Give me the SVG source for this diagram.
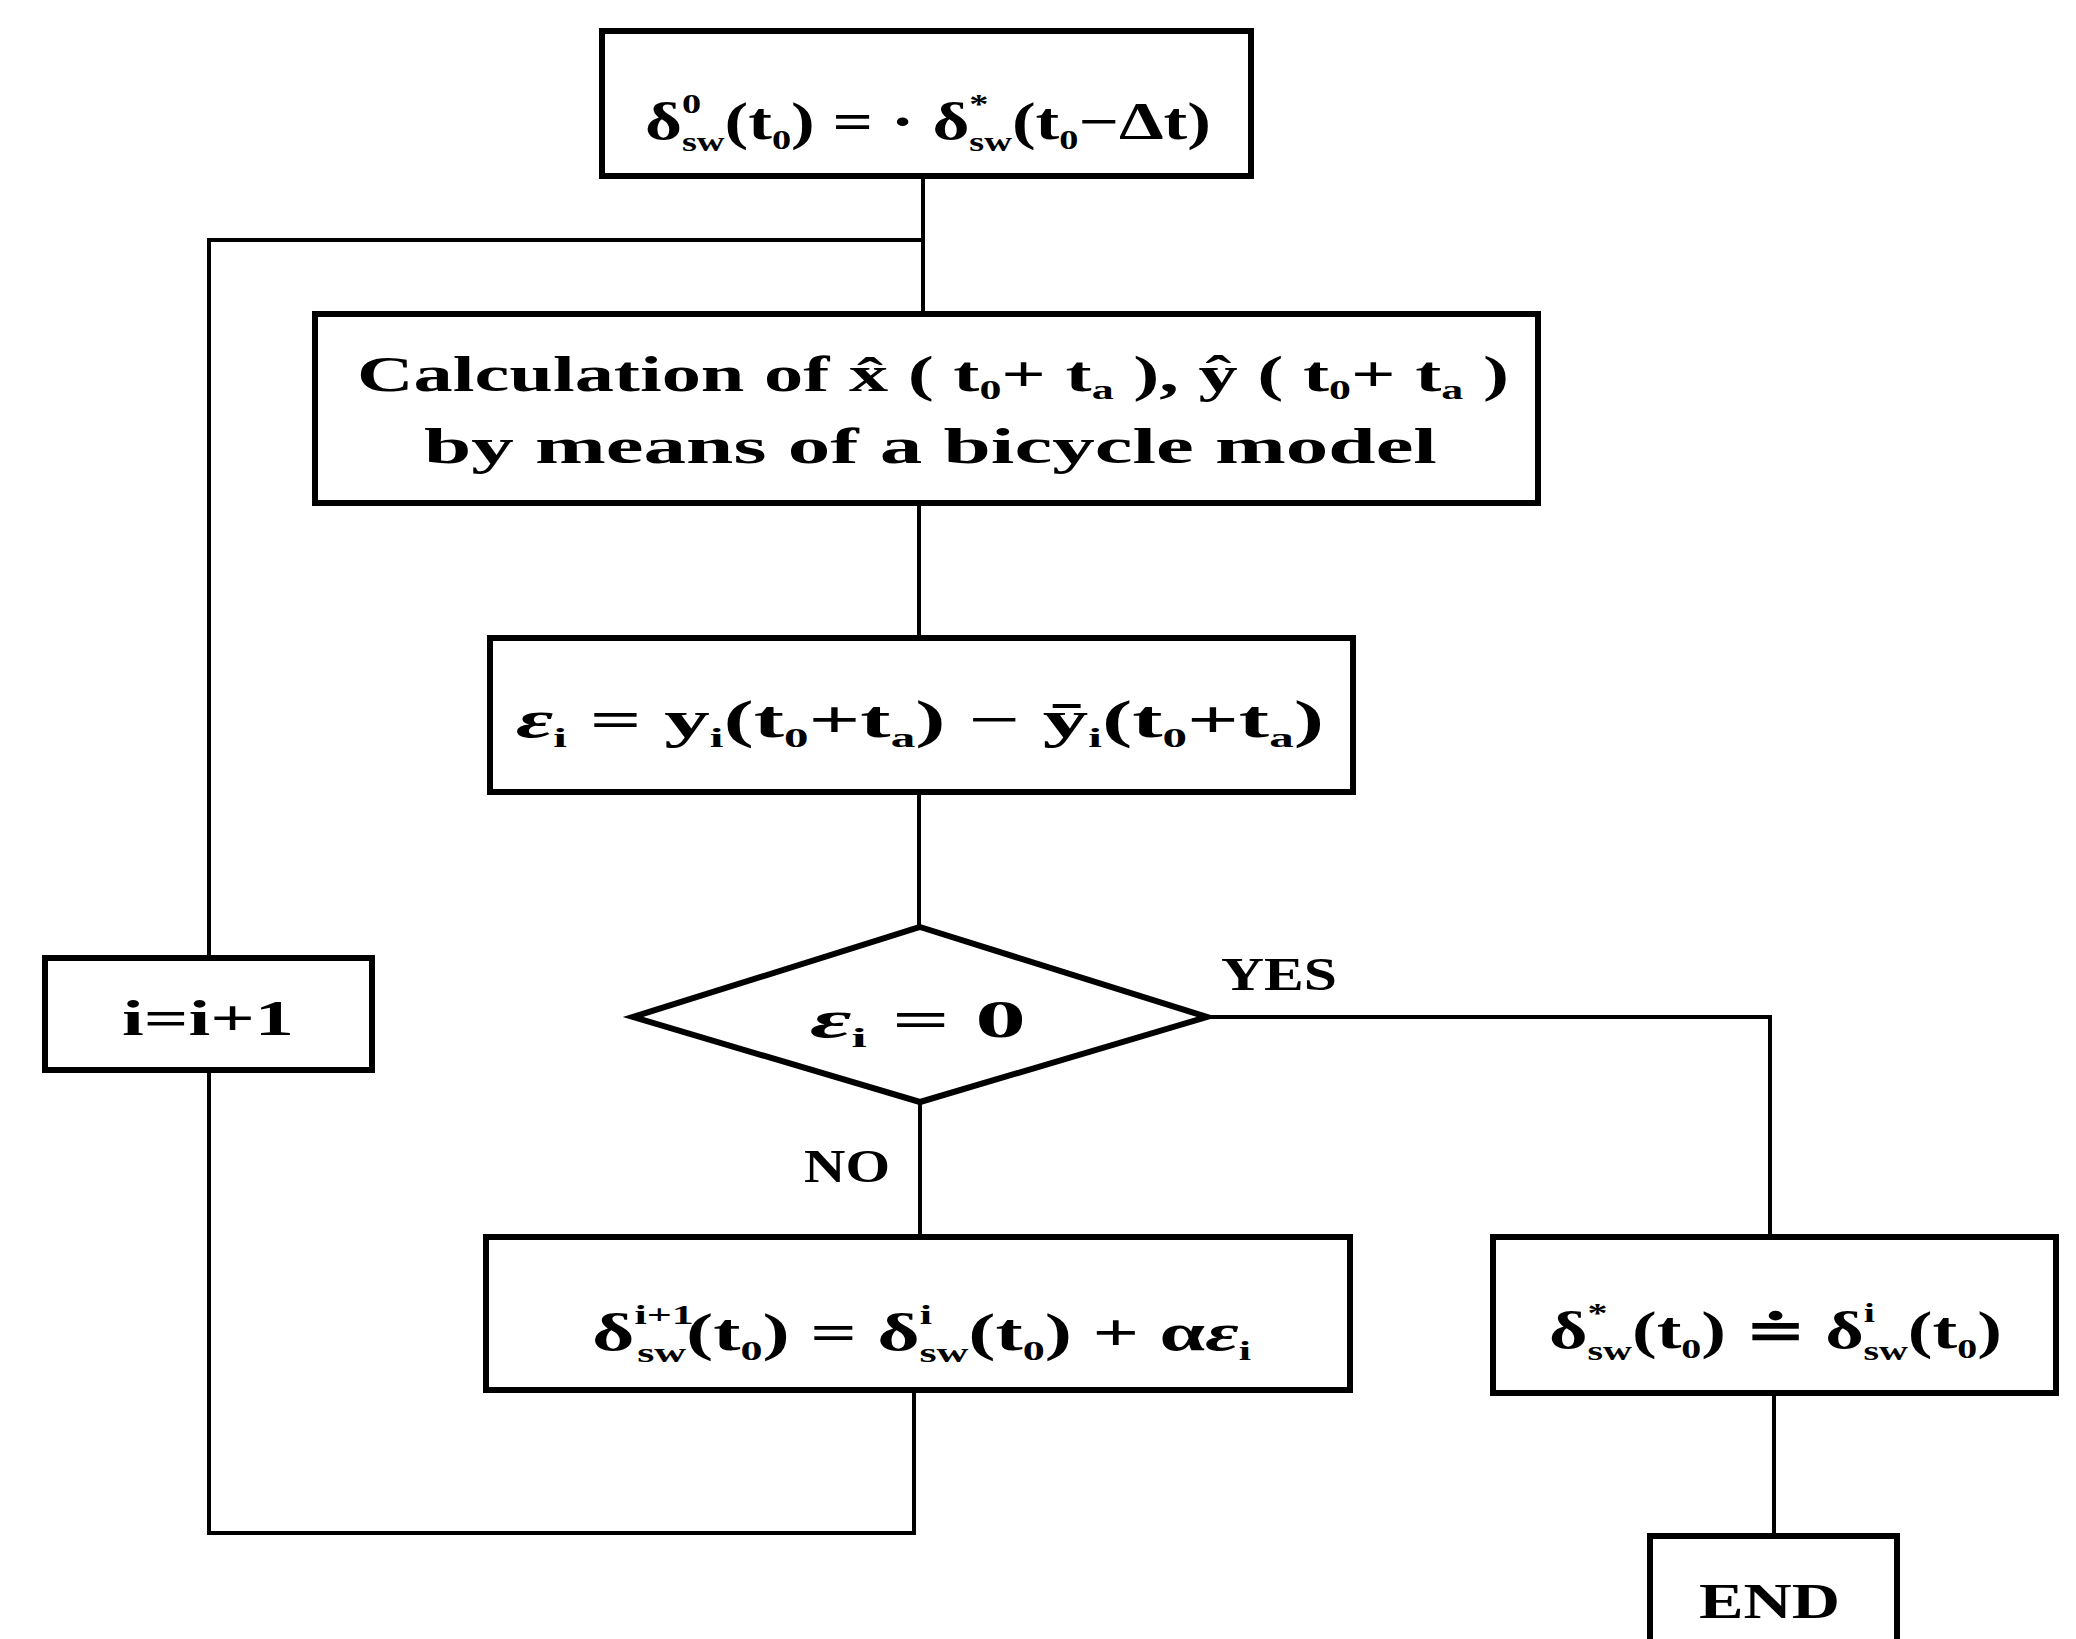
<svg xmlns="http://www.w3.org/2000/svg" width="2076" height="1639" viewBox="0 0 2076 1639">
<style>
.box{fill:#fff;stroke:#000;stroke-width:6}
.con{fill:none;stroke:#000;stroke-width:4}
text{font-family:"Liberation Serif","DejaVu Serif",serif;font-weight:bold;fill:#000;font-size:50px}
.m{font-size:52px}
.s{font-size:28px}
.lab{font-size:46px}
</style>
<rect width="2076" height="1639" fill="#fff"/>
<g id="connectors">
<path class="con" d="M923,176 V314"/>
<path class="con" d="M923,240 H209 V958"/>
<path class="con" d="M209,1070 V1533 H914 V1390"/>
<path class="con" d="M919,503 V638"/>
<path class="con" d="M919,792 V927"/>
<path class="con" d="M920,1102 V1237"/>
<path class="con" d="M1207,1017 H1770 V1237"/>
<path class="con" d="M1774,1393 V1536"/>
</g>
<g id="init">
<rect class="box" x="602" y="31" width="649" height="145"/>
<text class="m" x="645" y="139" textLength="566" lengthAdjust="spacingAndGlyphs">δ<tspan class="s" dy="-26">0</tspan><tspan class="s" dx="-14" dy="38">sw</tspan><tspan dy="-12">(t</tspan><tspan class="s" dy="10">0</tspan><tspan dy="-10">)  = · δ</tspan><tspan class="s" dy="-26">*</tspan><tspan class="s" dx="-14" dy="38">sw</tspan><tspan dy="-12">(t</tspan><tspan class="s" dy="10">0</tspan><tspan dy="-10">−Δt)</tspan></text>
</g>
<g id="calc">
<rect class="box" x="315" y="314" width="1223" height="189"/>
<text x="357" y="391" textLength="1152" lengthAdjust="spacingAndGlyphs">Calculation of x̂ ( t<tspan class="s" dy="8">0</tspan><tspan dy="-8">+ t</tspan><tspan class="s" dy="8">a</tspan><tspan dy="-8"> ), ŷ ( t</tspan><tspan class="s" dy="8">0</tspan><tspan dy="-8">+ t</tspan><tspan class="s" dy="8">a</tspan><tspan dy="-8"> )</tspan></text>
<text x="424" y="463" textLength="1013" lengthAdjust="spacingAndGlyphs">by means of a bicycle model</text>
</g>
<g id="error">
<rect class="box" x="490" y="638" width="863" height="154"/>
<text class="m" x="516" y="737" textLength="808" lengthAdjust="spacingAndGlyphs"><tspan font-style="italic">ε</tspan><tspan class="s" dy="10">i</tspan><tspan dy="-10"> =  y</tspan><tspan class="s" dy="10">i</tspan><tspan dy="-10">(t</tspan><tspan class="s" dy="10">0</tspan><tspan dy="-10">+t</tspan><tspan class="s" dy="10">a</tspan><tspan dy="-10">)  −  ȳ</tspan><tspan class="s" dy="10">i</tspan><tspan dy="-10">(t</tspan><tspan class="s" dy="10">0</tspan><tspan dy="-10">+t</tspan><tspan class="s" dy="10">a</tspan><tspan dy="-10">)</tspan></text>
</g>
<g id="decision">
<polygon class="box" points="920,927 1207,1017 920,1102 633,1017"/>
<text class="m" x="810" y="1037" textLength="216" lengthAdjust="spacingAndGlyphs"><tspan font-style="italic">ε</tspan><tspan class="s" dy="10">i</tspan><tspan dy="-10"> =  0</tspan></text>
</g>
<g id="labels">
<text class="lab" x="1221" y="990" textLength="116" lengthAdjust="spacingAndGlyphs">YES</text>
<text class="lab" x="804" y="1182" textLength="86" lengthAdjust="spacingAndGlyphs">NO</text>
</g>
<g id="incr">
<rect class="box" x="45" y="958" width="327" height="112"/>
<text x="122" y="1035" textLength="172" lengthAdjust="spacingAndGlyphs">i=i+1</text>
</g>
<g id="update">
<rect class="box" x="486" y="1237" width="864" height="153"/>
<text class="m" x="592" y="1350" textLength="659" lengthAdjust="spacingAndGlyphs">δ<tspan class="s" dy="-26">i+1</tspan><tspan class="s" dx="-36" dy="38">sw</tspan><tspan dy="-12">(t</tspan><tspan class="s" dy="10">0</tspan><tspan dy="-10">)  =  δ</tspan><tspan class="s" dy="-26">i</tspan><tspan class="s" dx="-8" dy="38">sw</tspan><tspan dy="-12">(t</tspan><tspan class="s" dy="10">0</tspan><tspan dy="-10">) + α</tspan><tspan font-style="italic">ε</tspan><tspan class="s" dy="10">i</tspan></text>
</g>
<g id="result">
<rect class="box" x="1493" y="1237" width="563" height="156"/>
<text class="m" x="1549" y="1348" textLength="453" lengthAdjust="spacingAndGlyphs">δ<tspan class="s" dy="-26">*</tspan><tspan class="s" dx="-14" dy="38">sw</tspan><tspan dy="-12">(t</tspan><tspan class="s" dy="10">0</tspan><tspan dy="-10">)  ≐  δ</tspan><tspan class="s" dy="-26">i</tspan><tspan class="s" dx="-8" dy="38">sw</tspan><tspan dy="-12">(t</tspan><tspan class="s" dy="10">0</tspan><tspan dy="-10">)</tspan></text>
</g>
<g id="end">
<rect class="box" x="1650" y="1536" width="247" height="150"/>
<text x="1699" y="1618" textLength="141" lengthAdjust="spacingAndGlyphs">END</text>
</g>
</svg>
